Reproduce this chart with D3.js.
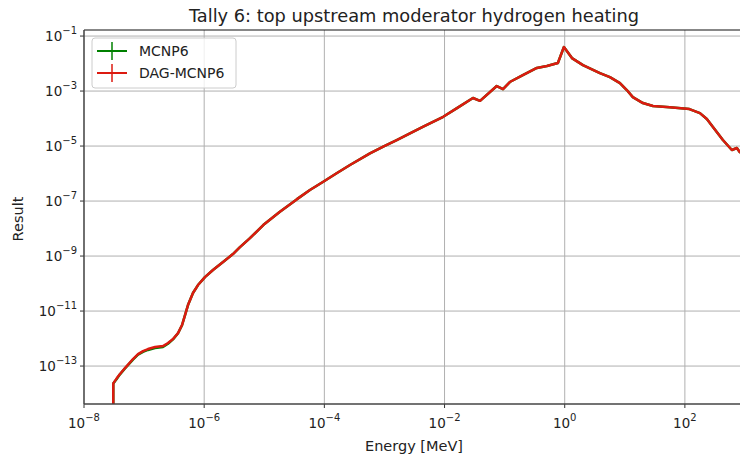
<!DOCTYPE html>
<html><head><meta charset="utf-8">
<script src="https://cdn.jsdelivr.net/npm/d3@7"></script>
<style>body{margin:0;background:#fff}svg{display:block}text{font-family:"DejaVu Sans",sans-serif;fill:#222}</style>
</head><body><svg id="c" width="740" height="459"></svg>
<script>
const title = "Tally 6: top upstream moderator hydrogen heating";
const xLabel = "Energy [MeV]";
const yLabel = "Result";
const seriesNames = ["MCNP6", "DAG-MCNP6"];
const seriesColors = ["#008000", "#dc1a10"];
const xTickExps = [-8, -6, -4, -2, 0, 2];
const yTickExps = [-1, -3, -5, -7, -9, -11, -13];

const energy = [3.07e-8, 3.07e-8, 3.50e-8, 3.97e-8, 4.81e-8, 6.53e-8, 7.92e-8, 9.59e-8, 1.16e-7, 1.52e-7, 2.06e-7, 2.50e-7, 3.03e-7, 3.67e-7, 4.28e-7, 4.80e-7, 5.38e-7, 6.51e-7, 7.89e-7, 1.03e-6, 1.40e-6, 2.06e-6, 3.01e-6, 3.94e-6, 5.78e-6, 9.62e-6, 1.82e-5, 3.46e-5, 5.75e-5, 9.59e-5, 1.60e-4, 2.67e-4, 5.74e-4, 9.55e-4, 1.60e-3, 2.66e-3, 4.43e-3, 9.51e-3, 1.61e-2, 2.97e-2, 3.9e-2, 7.4e-2, 9.4e-2, 0.122, 0.201, 0.344, 0.506, 0.77, 0.97, 1.32, 2.01, 3.85, 5.65, 8.3, 10.8, 13.6, 20.0, 29.4, 56, 119, 178, 232, 293, 429, 605, 733, 822, 1200];
const dagValues = [1e-16, 2.35e-14, 3.57e-14, 5.12e-14, 8.46e-14, 1.80e-13, 2.73e-13, 3.51e-13, 4.15e-13, 4.91e-13, 5.33e-13, 6.86e-13, 9.59e-13, 1.58e-12, 3.10e-12, 7.16e-12, 1.65e-11, 4.52e-11, 8.82e-11, 1.72e-10, 3.10e-10, 6.05e-10, 1.18e-9, 2.12e-9, 4.5e-9, 1.34e-8, 4.08e-8, 1.15e-7, 2.51e-7, 5.04e-7, 1.02e-6, 2.04e-6, 5.43e-6, 9.44e-6, 1.65e-5, 2.90e-5, 5.04e-5, 1.16e-4, 2.4e-4, 5.6e-4, 4.4e-4, 1.52e-3, 1.17e-3, 2.13e-3, 3.8e-3, 6.9e-3, 8.1e-3, 1.05e-2, 3.98e-2, 1.58e-2, 8.8e-3, 4.5e-3, 3.2e-3, 1.95e-3, 1.09e-3, 6.0e-4, 3.66e-4, 2.85e-4, 2.6e-4, 2.21e-4, 1.58e-4, 9.6e-5, 4.9e-5, 1.66e-5, 7.2e-6, 8.5e-6, 6.0e-6, 4.0e-6];
const mcnpValues = [1e-16, 2.3e-14, 3.4e-14, 5.0e-14, 8.2e-14, 1.72e-13, 2.6e-13, 3.3e-13, 3.85e-13, 4.5e-13, 4.95e-13, 6.5e-13, 9.3e-13, 1.55e-12, 3.05e-12, 7.1e-12, 1.65e-11, 4.52e-11, 8.82e-11, 1.72e-10, 3.10e-10, 6.05e-10, 1.18e-9, 2.12e-9, 4.5e-9, 1.34e-8, 4.08e-8, 1.15e-7, 2.51e-7, 5.04e-7, 1.02e-6, 2.04e-6, 5.43e-6, 9.44e-6, 1.65e-5, 2.90e-5, 5.04e-5, 1.16e-4, 2.4e-4, 5.6e-4, 4.4e-4, 1.52e-3, 1.17e-3, 2.13e-3, 3.8e-3, 6.9e-3, 8.1e-3, 1.05e-2, 3.98e-2, 1.58e-2, 8.8e-3, 4.5e-3, 3.2e-3, 1.95e-3, 1.09e-3, 6.0e-4, 3.66e-4, 2.85e-4, 2.6e-4, 2.21e-4, 1.58e-4, 9.6e-5, 4.9e-5, 1.66e-5, 7.2e-6, 8.5e-6, 6.0e-6, 4.0e-6];

const L = 84, T = 30, B = 404, R = 760;
const svg = d3.select("#c");
const x = d3.scaleLog().domain([1e-8, Math.pow(10, 3.25)]).range([L, R]);
const y = d3.scaleLog().domain([Math.pow(10, -14.38), Math.pow(10, -0.78)]).range([B, T]);

svg.append("defs").append("clipPath").attr("id", "clip")
  .append("rect").attr("x", L).attr("y", T).attr("width", R - L).attr("height", B - T);

// grid
const g = svg.append("g");
g.selectAll(".gx").data(xTickExps).join("line")
  .attr("x1", d => x(Math.pow(10, d))).attr("x2", d => x(Math.pow(10, d)))
  .attr("y1", T).attr("y2", B).attr("stroke", "#b0b0b0").attr("stroke-width", 1);
g.selectAll(".gy").data(yTickExps).join("line")
  .attr("y1", d => y(Math.pow(10, d))).attr("y2", d => y(Math.pow(10, d)))
  .attr("x1", L).attr("x2", R).attr("stroke", "#b0b0b0").attr("stroke-width", 1);

// lines
const line = d3.line().x((d, i) => x(energy[i])).y(d => y(d));
const plot = svg.append("g").attr("clip-path", "url(#clip)");
[mcnpValues, dagValues].forEach((vals, k) => {
  plot.append("path").attr("d", line(vals)).attr("fill", "none")
    .attr("stroke", seriesColors[k]).attr("stroke-width", 2.5).attr("stroke-linejoin", "round");
});

// axes
const sup = (sel, e) => {
  sel.append("tspan").text("10");
  sel.append("tspan").attr("dy", -7).attr("font-size", 10).text(e < 0 ? "\u2212" + (-e) : "" + e);
};
const xa = svg.append("g");
xTickExps.forEach(e => {
  const px = x(Math.pow(10, e));
  xa.append("line").attr("x1", px).attr("x2", px).attr("y1", B).attr("y2", B + 4).attr("stroke", "#333");
  const t = xa.append("text").attr("x", px).attr("y", B + 24).attr("text-anchor", "middle").attr("font-size", 13.5);
  sup(t, e);
});
const ya = svg.append("g");
yTickExps.forEach(e => {
  const py = y(Math.pow(10, e));
  ya.append("line").attr("x1", L - 4).attr("x2", L).attr("y1", py).attr("y2", py).attr("stroke", "#333");
  const t = ya.append("text").attr("x", L - 7).attr("y", py + 5).attr("text-anchor", "end").attr("font-size", 13.5);
  sup(t, e);
});

// spines
svg.append("line").attr("x1", L).attr("x2", R).attr("y1", T).attr("y2", T).attr("stroke", "#111").attr("stroke-width", 1.2);
svg.append("line").attr("x1", L).attr("x2", R).attr("y1", B).attr("y2", B).attr("stroke", "#444").attr("stroke-width", 1.4);
svg.append("line").attr("x1", L).attr("x2", L).attr("y1", T).attr("y2", B).attr("stroke", "#444").attr("stroke-width", 1.4);

// labels
svg.append("text").attr("x", 414).attr("y", 22).attr("text-anchor", "middle").attr("font-size", 17.8).text(title);
svg.append("text").attr("x", 414).attr("y", 451).attr("text-anchor", "middle").attr("font-size", 14.5).text(xLabel);
svg.append("text").attr("transform", "translate(23,219) rotate(-90)").attr("text-anchor", "middle").attr("font-size", 14.5).text(yLabel);

// legend
const lg = svg.append("g");
lg.append("rect").attr("x", 92).attr("y", 38).attr("width", 144).attr("height", 50).attr("rx", 3)
  .attr("fill", "#fff").attr("fill-opacity", 0.8).attr("stroke", "#ccc");
seriesNames.forEach((n, i) => {
  const cy = 51 + i * 22;
  lg.append("line").attr("x1", 97).attr("x2", 127).attr("y1", cy).attr("y2", cy).attr("stroke", seriesColors[i]).attr("stroke-width", 2);
  lg.append("line").attr("x1", 112).attr("x2", 112).attr("y1", cy - 9).attr("y2", cy + 9).attr("stroke", seriesColors[i]).attr("stroke-width", 1.5);
  lg.append("text").attr("x", 139).attr("y", cy + 5).attr("font-size", 14).text(n);
});
</script></body></html>
